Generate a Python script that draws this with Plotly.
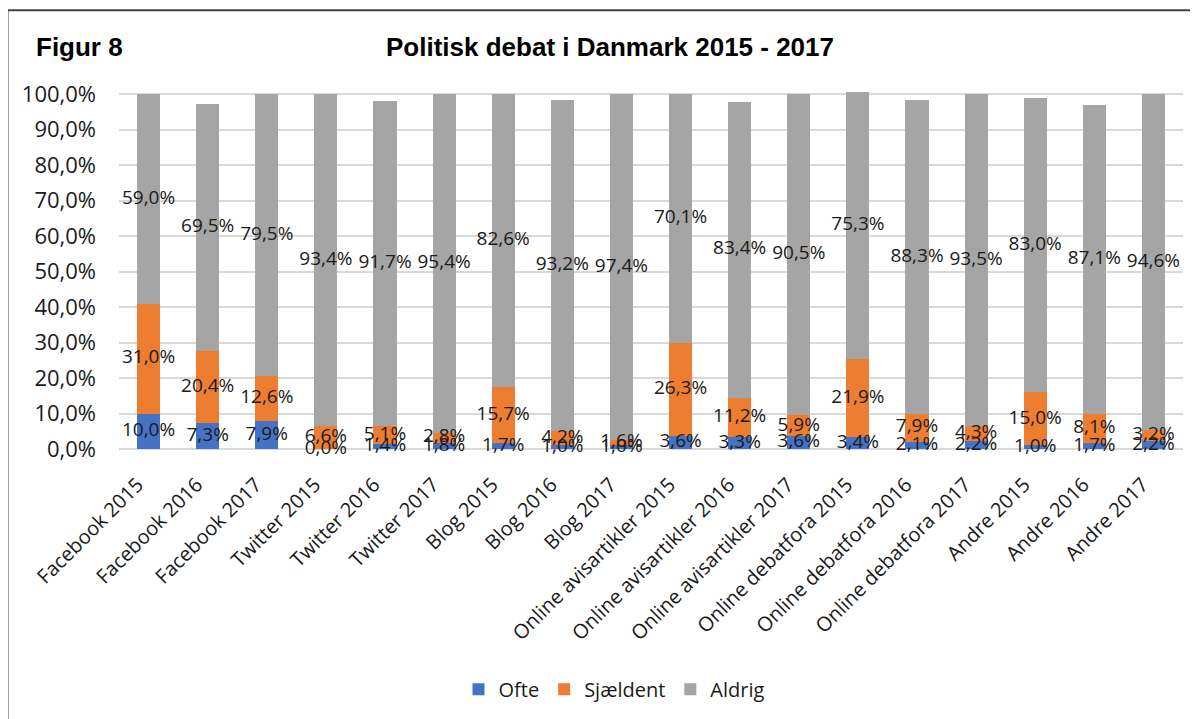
import numpy as np
import plotly.graph_objects as go

categories = ["Facebook 2015", "Facebook 2016", "Facebook 2017",
              "Twitter 2015", "Twitter 2016", "Twitter 2017",
              "Blog 2015", "Blog 2016", "Blog 2017",
              "Online avisartikler 2015", "Online avisartikler 2016", "Online avisartikler 2017",
              "Online debatfora 2015", "Online debatfora 2016", "Online debatfora 2017",
              "Andre 2015", "Andre 2016", "Andre 2017"]
ofte = [10.0, 7.3, 7.9, 0.0, 1.4, 1.8, 1.7, 1.0, 1.0, 3.6, 3.3, 3.6, 3.4, 2.1, 2.2, 1.0, 1.7, 2.2]
sjaeldent = [31.0, 20.4, 12.6, 6.6, 5.1, 2.8, 15.7, 4.2, 1.6, 26.3, 11.2, 5.9, 21.9, 7.9, 4.3, 15.0, 8.1, 3.2]
aldrig = [59.0, 69.5, 79.5, 93.4, 91.7, 95.4, 82.6, 93.2, 97.4, 70.1, 83.4, 90.5, 75.3, 88.3, 93.5, 83.0, 87.1, 94.6]
y_ticks = [0, 10, 20, 30, 40, 50, 60, 70, 80, 90, 100]
y_tick_labels = [f"{v:.1f}".replace(".", ",") + "%" for v in y_ticks]

series = [("Ofte", ofte, "#4472C4"), ("Sjældent", sjaeldent, "#ED7D31"), ("Aldrig", aldrig, "#A5A5A5")]

FONT = "Open Sans, Noto Sans, sans-serif"
TXT = "#1a1a1a"

fig = go.Figure()
for name, vals, col in series:
    fig.add_trace(go.Bar(x=categories, y=vals, name=name, marker=dict(color=col, line=dict(width=0)),
                         hoverinfo="skip"))

# data labels centred in each segment
base = np.zeros(len(categories))
for name, vals, col in series:
    v = np.array(vals)
    centers = base + v / 2
    fig.add_trace(go.Scatter(x=categories, y=centers, mode="text",
                             text=[f"{x:.1f}".replace(".", ",") + "%" for x in v],
                             textfont=dict(family=FONT, size=19, color=TXT), textposition="middle center",
                             showlegend=False, hoverinfo="skip", cliponaxis=False))
    base = base + v

# page has an 8px body margin: figure px = reference px - 8
OFF = 8
W, H = 1198 - OFF, 719 - OFF
L, R = 119 - OFF, 15
T = 92 - OFF
B = H - (450.5 - OFF)
pw, ph = W - L - R, H - T - B
px = lambda x: (x - OFF - L) / pw
py = lambda y: (H - B - (y - OFF)) / ph

# x tick labels, padded so the rotated text ends just at its tick like the original
x_tick_text = [c + "\u00a0" * 3 for c in categories]

fig.update_layout(
    width=W, height=H,
    margin=dict(l=L, r=R, t=T, b=B, pad=0),
    autosize=False,
    paper_bgcolor="white", plot_bgcolor="white",
    barmode="stack", bargap=0.61,
    separators=",.",
    showlegend=True,
    legend=dict(orientation="h", x=px(614), xanchor="center", y=py(690), yanchor="middle",
                traceorder="normal", font=dict(family=FONT, size=20, color=TXT),
                itemwidth=30, bgcolor="rgba(0,0,0,0)"),
    xaxis=dict(range=[-0.5, len(categories) - 0.5], tickangle=-45,
               tickvals=categories, ticktext=x_tick_text,
               tickfont=dict(family=FONT, size=20, color=TXT), showgrid=False,
               showline=False, ticks="", ticklabelstandoff=8, fixedrange=True),
    yaxis=dict(range=[0, 100.6], tickvals=y_ticks, ticktext=y_tick_labels,
               tickfont=dict(family=FONT, size=22, color=TXT), showgrid=True, gridcolor="#D9D9D9",
               gridwidth=1.5, zeroline=True, zerolinecolor="#D9D9D9", zerolinewidth=1.5,
               showline=False, ticks="", ticklabelstandoff=22, fixedrange=True),
    annotations=[
        dict(text="<b>Politisk debat i Danmark 2015 - 2017</b>", xref="paper", yref="paper",
             x=px(610), y=py(47), xanchor="center", yanchor="middle", showarrow=False,
             font=dict(family="Liberation Sans, Arial, sans-serif", size=26, color="#000")),
        dict(text="<b>Figur 8</b>", xref="paper", yref="paper",
             x=px(34), y=py(47), xanchor="left", yanchor="middle", showarrow=False,
             font=dict(family="Liberation Sans, Arial, sans-serif", size=26, color="#000")),
    ],
    shapes=[
        dict(type="line", xref="paper", yref="paper", x0=px(7.5), x1=px(7.5), y0=py(10), y1=py(760),
             line=dict(color="#404040", width=2)),
        dict(type="line", xref="paper", yref="paper", x0=px(7.5), x1=px(1240), y0=py(10), y1=py(10),
             line=dict(color="#404040", width=2)),
    ],
)

fig.write_html("out.html")
